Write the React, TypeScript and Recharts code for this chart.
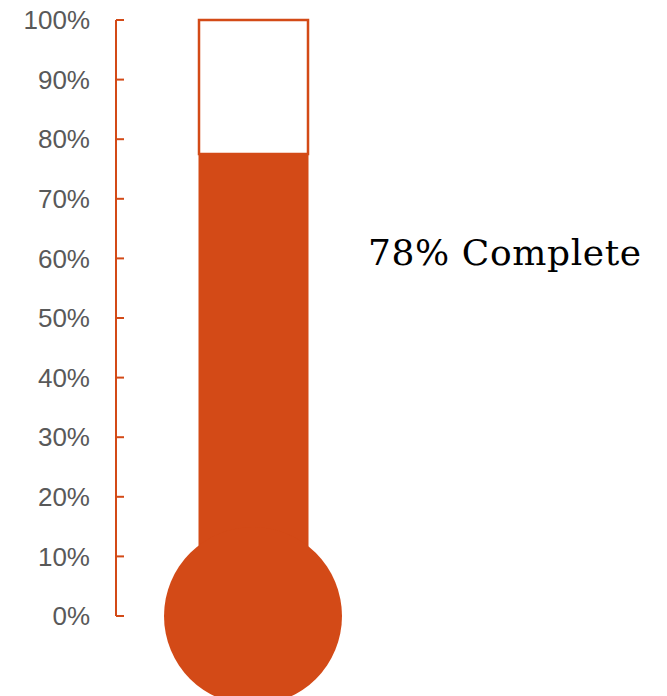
import React from "react";
import { ComposedChart, Bar, XAxis, YAxis, ReferenceDot } from "recharts";

const categories = ["Progress"];
const completeValues = [77.5];
const maxValue = 100;
const tickValues = [0, 10, 20, 30, 40, 50, 60, 70, 80, 90, 100];
const labelSuffix = " Complete";

const ORANGE = "#D34A17";
const GRAY = "#595959";

const data = categories.map((c, i) => ({
  name: c,
  complete: completeValues[i],
  remaining: maxValue - completeValues[i],
}));

export default function App() {
  const W = 667;
  const H = 710;
  const label = `${Math.round(completeValues[0])}%${labelSuffix}`;
  return (
    <div style={{ position: "relative", width: W, height: H, marginTop: -10 }}>
      <ComposedChart
        width={W}
        height={H}
        data={data}
        margin={{ top: 22, right: 285, bottom: 92, left: 0 }}
      >
        <XAxis dataKey="name" hide />
        <YAxis
          width={108}
          domain={[0, maxValue]}
          ticks={tickValues}
          interval={0}
          tickFormatter={(v: number) => `${v}%`}
          axisLine={{ stroke: ORANGE, strokeWidth: 2 }}
          tickLine={{ stroke: ORANGE, strokeWidth: 2 }}
          tickSize={-8}
          tickMargin={34}
          tick={{ fill: GRAY, fontSize: 26, fontFamily: "Liberation Sans" }}
        />
        <Bar
          dataKey="complete"
          stackId="t"
          barSize={109}
          fill={ORANGE}
          stroke={ORANGE}
          strokeWidth={1}
          isAnimationActive={false}
        />
        <Bar
          dataKey="remaining"
          stackId="t"
          barSize={109}
          fill="#FFFFFF"
          stroke={ORANGE}
          strokeWidth={2.5}
          isAnimationActive={false}
        />
        <ReferenceDot
          x={categories[0]}
          y={0}
          r={89}
          fill={ORANGE}
          stroke="none"
          ifOverflow="visible"
        />
      </ComposedChart>
      <svg
        width={W}
        height={H}
        style={{ position: "absolute", left: 0, top: 0, pointerEvents: "none" }}
      >
        <text
          x={360}
          y={267}
          fontSize={36}
          fontFamily="DejaVu Serif"
          fill="#000000"
          letterSpacing={0.6}
        >
          {label}
        </text>
      </svg>
    </div>
  );
}
